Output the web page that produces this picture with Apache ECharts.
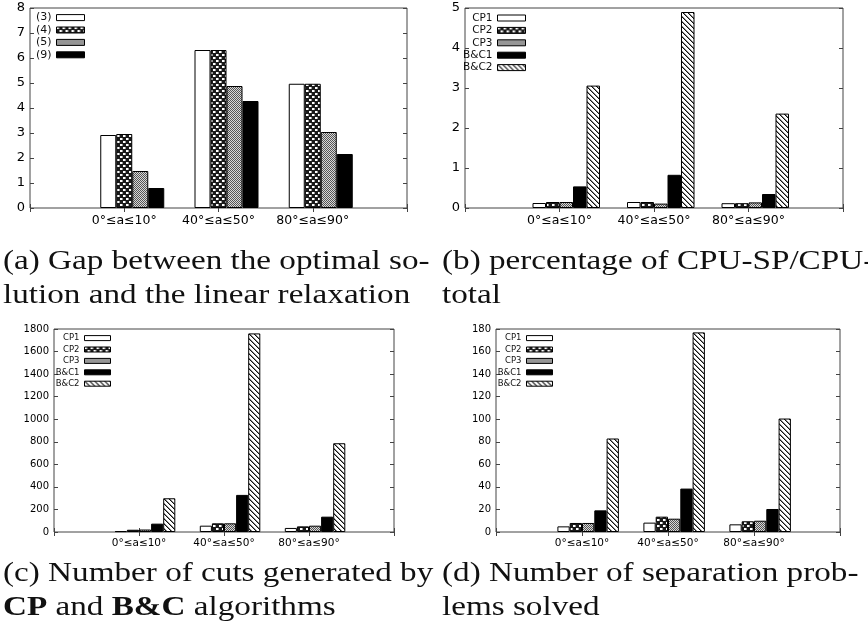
<!DOCTYPE html>
<html>
<head>
<meta charset="utf-8">
<script src="https://cdn.jsdelivr.net/npm/echarts@6/dist/echarts.min.js"></script>
<style>html,body{margin:0;padding:0;background:#fff}#c{width:868px;height:635px}</style>
</head>
<body>
<div id="c"></div>
<script>
// ---------------- data ----------------
const categories = ['0°≤a≤10°', '40°≤a≤50°', '80°≤a≤90°'];

// (a) gap between optimal solution and linear relaxation
const gapNames = ['(3)', '(4)', '(5)', '(9)'];
const gap3 = [2.92, 6.32, 4.97];
const gap4 = [2.96, 6.32, 4.97];
const gap5 = [1.48, 4.88, 3.04];
const gap9 = [0.80, 4.28, 2.16];

const algNames = ['CP1', 'CP2', 'CP3', 'B&C1', 'B&C2'];
// (b) percentage CPU-SP / CPU-total
const cpuCP1 = [0.125, 0.15, 0.12];
const cpuCP2 = [0.15, 0.15, 0.12];
const cpuCP3 = [0.15, 0.11, 0.14];
const cpuBC1 = [0.54, 0.83, 0.35];
const cpuBC2 = [3.06, 4.90, 2.36];
// (c) number of cuts
const cutsCP1 = [8, 56, 36];
const cutsCP2 = [20, 77, 50];
const cutsCP3 = [22, 77, 56];
const cutsBC1 = [74, 329, 136];
const cutsBC2 = [299, 1761, 787];
// (d) number of separation problems solved
const sepCP1 = [5, 8.3, 6.8];
const sepCP2 = [8, 13.6, 9.5];
const sepCP3 = [8, 11.8, 10];
const sepBC1 = [19.2, 38.5, 20.4];
const sepBC2 = [82.9, 177, 100.6];

// y axis ticks (min, max, step)
const yTicksA = [0, 8, 1];
const yTicksB = [0, 5, 1];
const yTicksC = [0, 1800, 200];
const yTicksD = [0, 180, 20];

const captionA = '(a) Gap between the optimal so-\nlution and the linear relaxation';
const captionB = '(b) percentage of CPU-SP/CPU-\ntotal';
const captionC = '(c) Number of cuts generated by\n{b|CP} and {b|B&C} algorithms';
const captionD = '(d) Number of separation prob-\nlems solved';

// ---------------- patterns ----------------
function tile(w, h, draw) {
  const c = document.createElement('canvas');
  c.width = w; c.height = h;
  const g = c.getContext('2d');
  draw(g);
  return { image: c, repeat: 'repeat' };
}
const patWhite = '#ffffff';
const patCross = tile(6, 6, g => {
  g.fillStyle = '#1a1a1a'; g.fillRect(0, 0, 6, 6);
  g.fillStyle = '#ffffff'; g.fillRect(0, 0, 2, 2); g.fillRect(3, 3, 2, 2);
  g.fillStyle = '#9a9a9a'; g.fillRect(2, 0, 1, 2); g.fillRect(5, 3, 1, 2);
});
const patGray = tile(2, 2, g => {
  g.fillStyle = '#d8d8d8'; g.fillRect(0, 0, 2, 2);
  g.fillStyle = '#555555'; g.fillRect(0, 0, 1, 1); g.fillRect(1, 1, 1, 1);
});
const patBlack = '#000000';
const patDiag = tile(5, 5, g => {
  g.fillStyle = '#ffffff'; g.fillRect(0, 0, 5, 5);
  g.fillStyle = '#111111';
  for (let i = 0; i < 5; i++) g.fillRect(i, i, 1, 1);
  g.fillStyle = '#888888';
  for (let i = 0; i < 5; i++) g.fillRect((i + 1) % 5, i, 1, 1);
});
const fills4 = [patWhite, patCross, patGray, patBlack];
const fills5 = [patWhite, patCross, patGray, patBlack, patDiag];

// ---------------- layout helpers ----------------
const FONT = 'DejaVu Sans';
const axisCol = '#444';
const grids = [
  { left: 30, top: 8, width: 377, height: 200 },
  { left: 465, top: 8, width: 378, height: 200 },
  { left: 54, top: 329, width: 340, height: 203 },
  { left: 496, top: 329, width: 344, height: 203 }
];
const axisCats = [''].concat(categories, ['']);
const pad = arr => ['-'].concat(arr, ['-']);

const xAxes = [], yAxes = [], series = [], legends = [];
function addPanel(gi, ticks, names, datas, fills, barW, xSize, ySize, legendCfg) {
  const xb = xAxes.length;
  const tick = { show: true, inside: true, length: 4, lineStyle: { color: axisCol } };
  xAxes.push({
    type: 'category', gridIndex: gi, data: axisCats, boundaryGap: false, position: 'bottom',
    axisLine: { show: false }, axisTick: tick,
    axisLabel: { fontFamily: FONT, fontSize: xSize, color: '#000', margin: 6, interval: 0 }
  });
  xAxes.push({
    type: 'category', gridIndex: gi, data: axisCats, boundaryGap: false, position: 'top',
    axisLine: { show: false }, axisTick: tick, axisLabel: { show: false }
  });
  const yb = yAxes.length;
  yAxes.push({
    type: 'value', gridIndex: gi, min: ticks[0], max: ticks[1], interval: ticks[2], position: 'left',
    axisLine: { show: false }, splitLine: { show: false }, axisTick: tick,
    axisLabel: { fontFamily: FONT, fontSize: ySize, color: '#000', margin: 5, formatter: v => String(v) }
  });
  yAxes.push({
    type: 'value', gridIndex: gi, min: ticks[0], max: ticks[1], interval: ticks[2], position: 'right',
    axisLine: { show: false }, splitLine: { show: false }, axisTick: tick, axisLabel: { show: false }
  });
  // empty leading slot (gnuplot cluster gap)
  series.push({
    type: 'bar', name: '_gap' + gi, xAxisIndex: xb, yAxisIndex: yb, barWidth: barW, barGap: '0%',
    data: pad(['-', '-', '-']), silent: true
  });
  names.forEach((n, i) => {
    series.push({
      type: 'bar', name: n, xAxisIndex: xb, yAxisIndex: yb, barWidth: barW, barGap: '0%',
      data: pad(datas[i]),
      itemStyle: { color: fills[i], borderColor: '#000', borderWidth: 1 },
      emphasis: { disabled: true }
    });
  });
  legends.push(Object.assign({
    orient: 'vertical', align: 'right', icon: 'rect', padding: 0, selectedMode: false,
    data: names,
    itemStyle: { borderColor: '#000', borderWidth: 1 }
  }, legendCfg));
}

addPanel(0, yTicksA, gapNames, [gap3, gap4, gap5, gap9], fills4, 16, 12.5, 13,
  { right: 868 - 85, top: 11.6, itemWidth: 28, itemHeight: 6, itemGap: 0.4,
    textStyle: { fontFamily: FONT, fontSize: 11, color: '#111', lineHeight: 12 } });
addPanel(1, yTicksB, algNames, [cpuCP1, cpuCP2, cpuCP3, cpuBC1, cpuBC2], fills5, 13.5, 12.5, 13,
  { right: 868 - 526, top: 12, itemWidth: 28, itemHeight: 6, itemGap: 0.4,
    textStyle: { fontFamily: FONT, fontSize: 10.5, color: '#111', lineHeight: 12 } });
addPanel(2, yTicksC, algNames, [cutsCP1, cutsCP2, cutsCP3, cutsBC1, cutsBC2], fills5, 12.1, 10.5, 10,
  { right: 868 - 111, top: 332.6, itemWidth: 26, itemHeight: 5, itemGap: 0.4,
    textStyle: { fontFamily: FONT, fontSize: 8.5, color: '#111', lineHeight: 11 } });
addPanel(3, yTicksD, algNames, [sepCP1, sepCP2, sepCP3, sepBC1, sepBC2], fills5, 12.3, 10.5, 10,
  { right: 868 - 553, top: 332.6, itemWidth: 26, itemHeight: 5, itemGap: 0.4,
    textStyle: { fontFamily: FONT, fontSize: 8.5, color: '#111', lineHeight: 11 } });

// captions (serif, horizontally widened to mimic Computer Modern proportions)
const CAP_FONT = 'Liberation Serif';
const capStyle = text => ({
  text: text, fontFamily: CAP_FONT, fontSize: 28, fill: '#111', lineHeight: 34, verticalAlign: 'top',
  rich: { b: { fontFamily: CAP_FONT, fontSize: 28, fontWeight: 'bold', fill: '#111', lineHeight: 34 } }
});
const graphics = [
  { text: captionA, x: 3, y: 245 },
  { text: captionB, x: 442, y: 245 },
  { text: captionC, x: 3, y: 557 },
  { text: captionD, x: 442, y: 557 }
].map(t => ({ type: 'text', x: t.x, y: t.y, scaleX: 1.185, silent: true, style: capStyle(t.text) }));

const chart = echarts.init(document.getElementById('c'), null, { renderer: 'canvas' });
chart.setOption({
  animation: false,
  backgroundColor: '#fff',
  graphic: graphics,
  grid: grids.map(g => Object.assign({ show: true, borderColor: axisCol, borderWidth: 1, backgroundColor: 'transparent', containLabel: false }, g)),
  xAxis: xAxes,
  yAxis: yAxes,
  legend: legends,
  series: series
});
</script>
</body>
</html>
